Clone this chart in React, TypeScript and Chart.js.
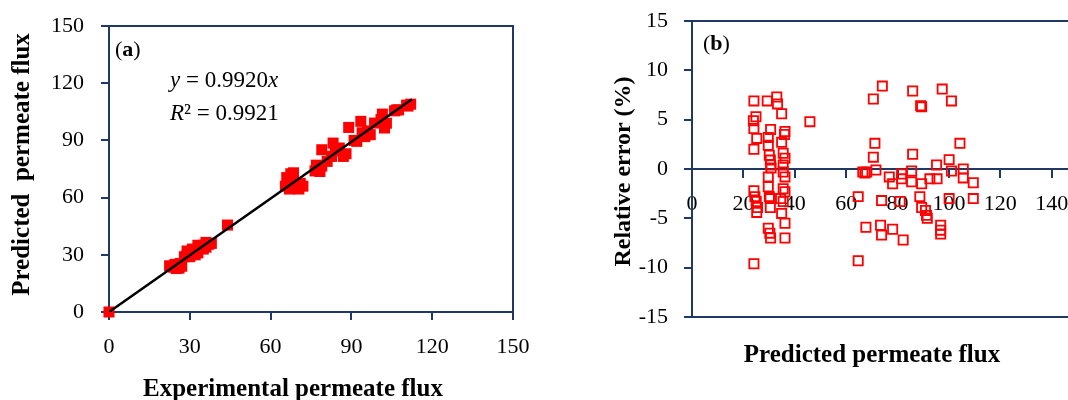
import React, { useEffect, useRef } from 'react';
import { Chart, registerables } from 'chart.js';

Chart.register(...registerables);

// ---------- Panel (a): experimental vs predicted permeate flux ----------
const expFluxA = [
  0,
  22.5, 23, 24, 24.5, 25, 25, 26, 26.5, 27,
  28, 29, 29, 30, 30, 31, 31, 32, 32, 33,
  33, 34, 35, 35, 36, 36, 37, 38,
  44,
  65.5, 66, 67, 67.5, 68, 68.5, 69.5, 70.5, 71, 72,
  76.5, 77, 78.3, 79, 79, 81, 82.6, 83.2, 84, 85.5, 87, 88,
  89, 91, 92, 93.5, 94, 95, 96, 97, 98.6, 101, 101.5, 102.3, 103,
  106, 106.8, 107.5, 110.5, 111, 112,
];
const predFluxA = [
  0,
  24.2, 24, 23.5, 25, 24.5, 22.8, 23, 25.5, 24,
  29, 30, 32, 29, 31, 30.5, 33, 30, 32, 31,
  35, 34, 33, 35, 34, 36.5, 35.5, 36,
  45.6,
  66, 70.5, 64.5, 72.5, 69.5, 73, 68, 64.5, 67.5, 66,
  74, 77, 73.7, 76.5, 85.1, 79, 81.6, 88.6, 84.5, 86, 81.6, 83,
  96.8, 90, 89.5, 100, 94, 92, 95, 93, 99.1, 101, 103.8, 96.5, 99,
  105.5, 106, 106, 108.5, 108, 109,
];
const fitLineX = [0, 112.5];
const fitLineY = [0, 111.6];
const fluxTicksA = [0, 30, 60, 90, 120, 150];

// ---------- Panel (b): predicted flux vs relative error ----------
const predFluxB = [
  24.1, 24.9, 23.9, 24.1, 25.2, 24.1, 24.1, 24.5, 25, 25.5, 25.2, 24.1,
  29.3, 30.6, 29.7, 29.7, 30.1, 30.5, 30.6, 30.8, 29.7, 29.7, 30.1, 30.4, 30.5, 29.7, 30.3, 30.6,
  33, 33.3, 34.9, 36.2, 36, 34.9, 35.5, 36.2, 35.5, 35.5, 36.2, 35.5, 36.2, 34.5, 35.5, 34.9, 36.2, 36.2,
  45.9,
  74.1, 70.6, 85.9, 89, 89.4, 97.4, 101,
  71.2, 70.6, 85.9, 104.3, 100.1, 95.2,
  66.5, 67.3, 68, 71.6, 76.8, 78.1, 81.6, 81.6, 85.5, 85.5, 89.4, 92.6, 95.4, 101, 105.6, 105.6, 109.5,
  64.7, 73.8, 81, 88.7, 89.4, 90.9, 91.3, 91.6, 100.1, 109.5,
  67.7, 73.4, 73.8, 78.1, 82.2, 96.8, 96.8, 96.8, 64.7,
];
const relErrorB = [
  6.9, 5.3, 4.9, 4.1, 3.1, 2.0, -2.2, -2.8, -3.3, -3.9, -4.4, -9.6,
  6.9, 4.0, 3.2, 2.4, 1.4, 0.9, 0.4, 0.1, -0.8, -1.8, -2.8, -3.0, -3.9, -6.0, -6.5, -7.0,
  7.3, 6.6, 5.6, 3.8, 3.5, 2.7, 1.6, 1.1, 0.4, -0.3, -0.8, -2.0, -2.3, -3.0, -3.3, -4.5, -5.5, -7.0,
  4.8,
  8.4, 7.1, 7.9, 6.4, 6.3, 8.1, 6.9,
  2.6, 1.2, 1.5, 2.6, 0.95, 0.4,
  -0.3, -0.4, -0.3, -0.1, -0.8, -1.5, -0.5, -1.0, -0.2, -1.3, -1.5, -1.0, -1.0, -0.2, 0.0, -0.9, -1.4,
  -2.8, -3.2, -3.3, -2.8, -3.9, -4.2, -4.7, -5.0, -3.0, -3.0,
  -5.9, -5.7, -6.7, -6.1, -7.2, -5.7, -6.2, -6.6, -9.3,
];
const predTicksB = [0, 20, 40, 60, 80, 100, 120, 140, 160];
const errorTicksB = [-15, -10, -5, 0, 5, 10, 15];

// ---------- styling ----------
const NAVY = '#1F3864';
const RED = '#FF0000';
const SERIF = '"Liberation Serif", "Times New Roman", serif';

const framePlugin = {
  id: 'frame',
  beforeDatasetsDraw(chart: any) {
    const { ctx, chartArea: a } = chart;
    ctx.save();
    ctx.strokeStyle = NAVY;
    ctx.lineWidth = 2;
    ctx.strokeRect(a.left, a.top, a.right - a.left, a.bottom - a.top);
    ctx.restore();
  },
};

function drawRuns(ctx: CanvasRenderingContext2D, x: number, y: number, runs: [string, string][], size: number) {
  let cx = x;
  for (const [style, text] of runs) {
    ctx.font = `${style} ${size}px ${SERIF}`;
    ctx.fillText(text, cx, y);
    cx += ctx.measureText(text).width;
  }
}

const annotA = {
  id: 'annotA',
  afterDraw(chart: any) {
    const ctx = chart.ctx as CanvasRenderingContext2D;
    ctx.save();
    ctx.fillStyle = '#000';
    ctx.textAlign = 'left';
    ctx.textBaseline = 'alphabetic';
    drawRuns(ctx, 115, 56, [['normal', '('], ['bold', 'a'], ['normal', ')']], 22);
    drawRuns(ctx, 170, 87, [['italic', 'y'], ['normal', ' = 0.9920'], ['italic', 'x']], 23);
    drawRuns(ctx, 170, 119.5, [['italic', 'R'], ['normal', '² = 0.9921']], 23);
    // axis titles
    ctx.textAlign = 'center';
    ctx.font = `bold 25px ${SERIF}`;
    ctx.fillText('Experimental permeate flux', 293, 396);
    ctx.translate(29, 164.5);
    ctx.rotate(-Math.PI / 2);
    ctx.fillText('Predicted  permeate flux', 0, 0);
    ctx.restore();
  },
};

const annotB = {
  id: 'annotB',
  afterDraw(chart: any) {
    const ctx = chart.ctx as CanvasRenderingContext2D;
    ctx.save();
    ctx.fillStyle = '#000';
    ctx.textAlign = 'left';
    ctx.textBaseline = 'alphabetic';
    drawRuns(ctx, 169, 50, [['normal', '('], ['bold', 'b'], ['normal', ')']], 22);
    ctx.textAlign = 'center';
    ctx.font = `bold 25px ${SERIF}`;
    ctx.fillText('Predicted permeate flux', 338, 362);
    ctx.font = `bold 24px ${SERIF}`;
    ctx.translate(95.5, 171.5);
    ctx.rotate(-Math.PI / 2);
    ctx.fillText('Relative error (%)', 0, 0);
    ctx.restore();
  },
};

const tickFont = { family: SERIF, size: 22 };

function noPad(s: any) {
  s.paddingLeft = 0;
  s.paddingRight = 0;
  s.paddingTop = 0;
  s.paddingBottom = 0;
}

function axisCommon() {
  return {
    type: 'linear' as const,
    grid: {
      drawOnChartArea: false,
      drawTicks: true,
      tickLength: 8,
      color: NAVY,
      lineWidth: 2,
    },
    border: { display: true, color: NAVY, width: 2 },
    title: { display: false },
  };
}

function makeConfigA(): any {
  const step = fluxTicksA[1] - fluxTicksA[0];
  return {
    type: 'scatter',
    data: {
      datasets: [
        {
          label: 'fit',
          data: fitLineX.map((x, i) => ({ x, y: fitLineY[i] })),
          showLine: true,
          borderColor: '#000',
          borderWidth: 2.5,
          pointRadius: 0,
          order: 0,
        },
        {
          label: 'points',
          data: expFluxA.map((x, i) => ({ x, y: predFluxA[i] })),
          pointStyle: 'rect',
          pointRadius: 7.8,
          pointBorderWidth: 0,
          pointBackgroundColor: RED,
          pointBorderColor: RED,
          backgroundColor: RED,
          borderColor: RED,
          clip: false,
          order: 1,
        },
      ],
    },
    options: {
      responsive: false,
      animation: false,
      events: [],
      layout: { padding: { left: 0, top: 26, right: 21, bottom: 0 } },
      plugins: { legend: { display: false }, tooltip: { enabled: false } },
      scales: {
        x: {
          ...axisCommon(),
          position: 'bottom',
          min: fluxTicksA[0],
          max: fluxTicksA[fluxTicksA.length - 1],
          ticks: { stepSize: step, font: tickFont, color: '#000', padding: 14, maxRotation: 0 },
          afterFit: (s: any) => { s.height = 88; noPad(s); },
        },
        y: {
          ...axisCommon(),
          position: 'left',
          min: fluxTicksA[0],
          max: fluxTicksA[fluxTicksA.length - 1],
          ticks: { stepSize: step, font: tickFont, color: '#000', padding: 17 },
          afterFit: (s: any) => { s.width = 109; noPad(s); },
        },
      },
    },
    plugins: [framePlugin, annotA],
  };
}

function makeConfigB(): any {
  return {
    type: 'scatter',
    data: {
      datasets: [
        {
          label: 'error',
          data: predFluxB.map((x, i) => ({ x, y: relErrorB[i] })),
          pointStyle: 'rect',
          pointRadius: 6.5,
          pointBorderWidth: 1.8,
          pointBackgroundColor: 'rgba(255,255,255,0)',
          pointBorderColor: RED,
          backgroundColor: 'rgba(255,255,255,0)',
          borderColor: RED,
        },
      ],
    },
    options: {
      responsive: false,
      animation: false,
      events: [],
      layout: { padding: { left: 0, top: 21, right: 31, bottom: 83 } },
      plugins: { legend: { display: false }, tooltip: { enabled: false } },
      scales: {
        x: {
          ...axisCommon(),
          position: { y: 0 },
          min: predTicksB[0],
          max: predTicksB[predTicksB.length - 1],
          ticks: { stepSize: predTicksB[1] - predTicksB[0], font: tickFont, color: '#000', padding: 14, maxRotation: 0, autoSkip: false },
          afterFit: (s: any) => { noPad(s); },
        },
        y: {
          ...axisCommon(),
          position: 'left',
          min: errorTicksB[0],
          max: errorTicksB[errorTicksB.length - 1],
          ticks: { stepSize: errorTicksB[1] - errorTicksB[0], font: tickFont, color: '#000', padding: 16 },
          afterFit: (s: any) => { s.width = 158; noPad(s); },
        },
      },
    },
    plugins: [framePlugin, annotB],
  };
}

function ChartCanvas({ makeConfig, left, width }: { makeConfig: () => any; left: number; width: number }) {
  const ref = useRef<HTMLCanvasElement>(null);
  useEffect(() => {
    const chart = new Chart(ref.current as HTMLCanvasElement, makeConfig());
    return () => chart.destroy();
  }, []);
  return (
    <canvas
      ref={ref}
      width={width}
      height={400}
      style={{ position: 'absolute', left, top: 0, width, height: 400, display: 'block' }}
    />
  );
}

export default function App() {
  return (
    <div
      style={{
        position: 'fixed',
        left: 0,
        top: 0,
        width: 1068,
        height: 400,
        overflow: 'hidden',
        background: '#fff',
      }}
    >
      <ChartCanvas makeConfig={makeConfigA} left={0} width={534} />
      <ChartCanvas makeConfig={makeConfigB} left={534} width={600} />
    </div>
  );
}
